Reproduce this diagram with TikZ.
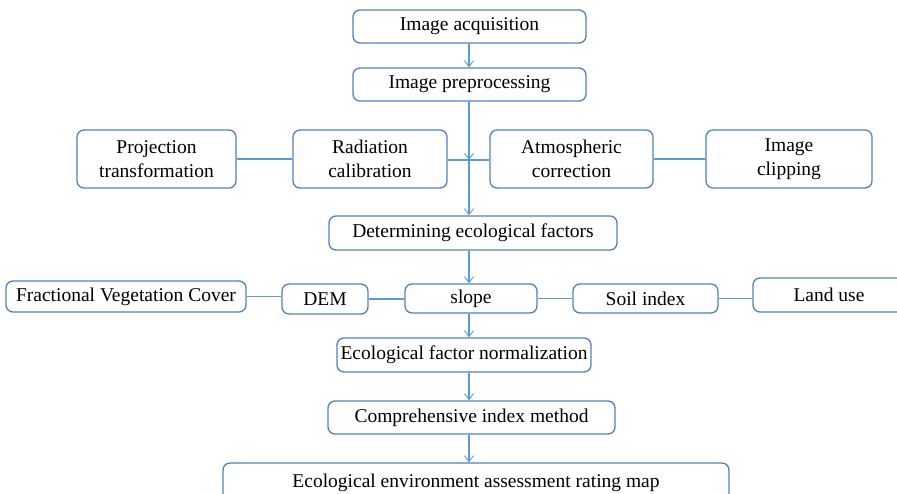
\documentclass[tikz,border=0pt]{standalone}
\usepackage{fontspec}
\setmainfont{Liberation Serif}
\usetikzlibrary{arrows.meta}
\definecolor{boxc}{RGB}{79,129,189}
\definecolor{linec}{RGB}{91,155,213}
\begin{document}
\begin{tikzpicture}[x=1pt,y=-1pt,
  box/.style={draw=boxc,line width=1.3pt,rounded corners=7pt,inner sep=0pt,
    font=\fontsize{19.5}{23.5}\selectfont,align=center,text=black},
  conn/.style={draw=linec,line width=1.1pt},
  arr/.style={conn,-{Straight Barb[length=6pt,width=9pt,line width=0.9pt]}}]
\useasboundingbox (0,0) rectangle (897,494);
\node[box,minimum width=233pt,minimum height=33pt] (acq) at (469.5,26.5) {Image acquisition};
\node[box,minimum width=233pt,minimum height=33pt] (pre) at (469.5,84.5) {Image preprocessing};
\node[box,minimum width=159pt,minimum height=58pt] (proj) at (156.5,159) {Projection\\transformation};
\node[box,minimum width=154pt,minimum height=58pt] (rad) at (370,159) {Radiation\\calibration};
\node[box,minimum width=163pt,minimum height=58pt] (atm) at (571.5,159) {Atmospheric\\correction};
\node[box,minimum width=166pt,minimum height=58pt] (clip) at (789,159) {Image\\clipping};
\node[box,minimum width=288pt,minimum height=34pt] (det) at (473,233) {Determining ecological factors};
\node[box,minimum width=240pt,minimum height=31pt] (fvc) at (126,296.5) {Fractional Vegetation Cover};
\node[box,minimum width=86pt,minimum height=30pt] (dem) at (325,299) {DEM};
\node[box,minimum width=132pt,minimum height=29pt] (slope) at (471,298.5) {slope};
\node[box,minimum width=145pt,minimum height=29pt] (soil) at (645.5,298.5) {Soil index};
\node[box,minimum width=152pt,minimum height=34pt] (land) at (829,295) {Land use};
\node[box,minimum width=254pt,minimum height=34pt] (norm) at (464,355) {Ecological factor normalization};
\node[box,minimum width=287pt,minimum height=33pt] (comp) at (471.5,417.5) {Comprehensive index method};
\node[box,minimum width=506pt,minimum height=40pt] (map) at (476,483) {Ecological environment assessment rating map};
\coordinate (hub) at (469,160);
% connectors
\draw[arr] (acq.south -| hub) -- (pre.north -| hub);
\draw[arr] (pre.south -| hub) -- (hub);
\draw[arr] (hub) -- (det.north -| hub);
\draw[conn] (rad.east |- hub) -- (hub);
\draw[conn] (hub) -- (atm.west |- hub);
\draw[conn] (proj.east) -- (rad.west);
\draw[conn] (atm.east) -- (clip.west);
\draw[arr] (det.south -| hub) -- (slope.north -| hub);
\draw[conn] (fvc.east) -- (fvc.east -| dem.west);
\draw[conn] (dem.east) -- (dem.east -| slope.west);
\draw[conn] (slope.east) -- (slope.east -| soil.west);
\draw[conn] (soil.east) -- (soil.east -| land.west);
\draw[arr] (slope.south -| hub) -- (norm.north -| hub);
\draw[arr] (norm.south -| hub) -- (comp.north -| hub);
\draw[arr] (comp.south -| hub) -- (map.north -| hub);
\end{tikzpicture}
\end{document}
